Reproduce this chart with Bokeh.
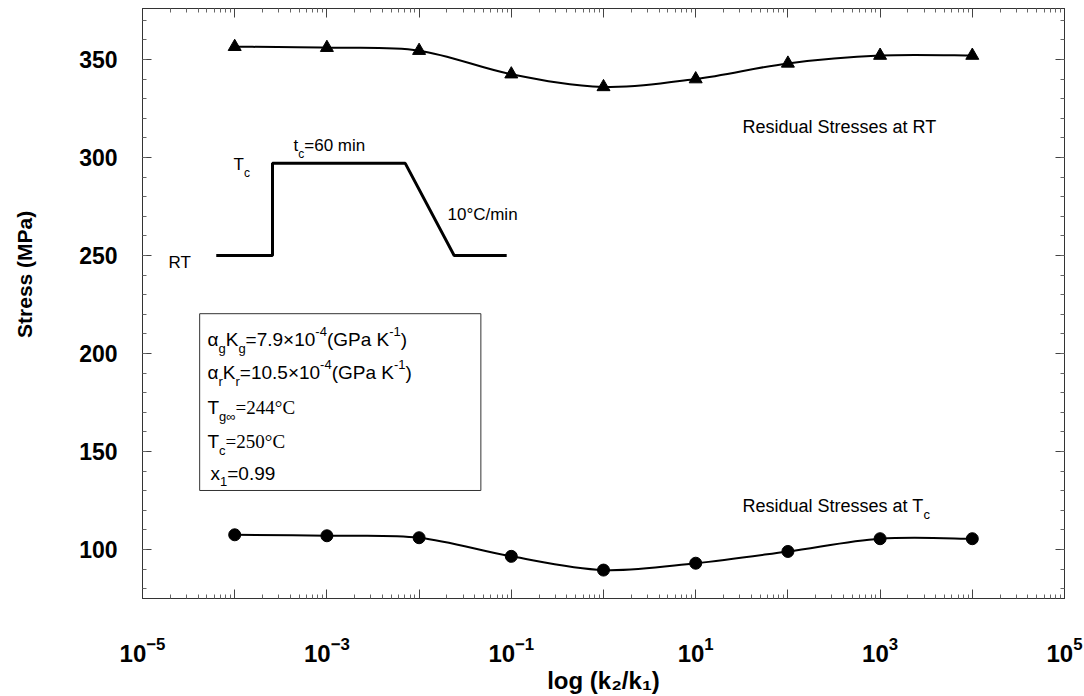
import numpy as np
from bokeh.plotting import figure
from bokeh.models import Label, LogAxis, LinearAxis, FixedTicker, Range1d, ColumnDataSource
from bokeh.embed import file_html
from bokeh.resources import INLINE

# ---------------- data ----------------
k_ratio = [1e-4, 1e-3, 1e-2, 1e-1, 1e0, 1e1, 1e2, 1e3, 1e4]
stress_rt = [356.5, 356.0, 354.5, 342.5, 336.0, 340.0, 348.0, 352.0, 352.0]
stress_tc = [107.5, 107.0, 106.0, 96.5, 89.5, 93.0, 99.0, 105.5, 105.5]

x_decades = list(range(-5, 6))
x_labelled_decades = [-5, -3, -1, 1, 3, 5]
y_tick_values = [100, 150, 200, 250, 300, 350]

# schematic thermal history (log10 x, temperature level on stress scale)
profile_log_x = [-4.20, -3.59, -3.59, -2.15, -1.62, -1.05]
profile_level = [250, 250, 297, 297, 250, 250]

# parameter box (log10 x extent, y extent)
box_log_x = [-4.38, -1.33]
box_y = [130.1, 220.3]
box_line_y = [207.1, 190.3, 172.4, 155.1, 138.8]

SANS = "Liberation Sans"
SERIF = "Liberation Serif"

W_REG = {' ': 278, '(': 333, ')': 333, '-': 333, '.': 278, '/': 278, '=': 584, 'C': 722,
         'G': 778, 'K': 667, 'P': 667, 'R': 722, 'S': 667, 'T': 611, 'a': 556, 'c': 500,
         'd': 556, 'e': 556, 'g': 556, 'i': 222, 'l': 222, 'm': 833, 'n': 556, 'r': 333,
         's': 500, 't': 278, 'u': 556, 'x': 500, '\u00d7': 584, '\u00b0': 400, '\u03b1': 578,
         '\u221e': 713, 'k': 500, 'o': 556}
W_SERIF = {'=': 564, '\u00b0': 400, 'C': 667, '.': 250}


def text_width(s, size, fam):
    table, dflt = (W_SERIF, 500) if fam == SERIF else (W_REG, 556)
    return sum(table.get(ch, dflt) for ch in s) * size / 1000.0


p = figure(frame_width=922, frame_height=590, x_axis_type="log",
           x_range=Range1d(1e-5, 1e5), y_range=Range1d(75, 376),
           output_backend="svg", toolbar_location=None,
           min_border_left=142, min_border_right=20, min_border_top=8, min_border_bottom=98)
p.background_fill_color = "white"
p.border_fill_color = "white"
p.outline_line_color = "#222222"
p.grid.visible = False

x_major = [10.0 ** k for k in x_decades]
x_minor = [m * 10.0 ** k for k in range(-5, 5) for m in range(2, 10)]
y_minor = list(range(80, 371, 10))

bottom_axis = p.below[0]
left_axis = p.left[0]
top_axis = LogAxis()
right_axis = LinearAxis()
p.add_layout(top_axis, "above")
p.add_layout(right_axis, "right")

for ax in [bottom_axis, top_axis]:
    ax.ticker = FixedTicker(ticks=x_major, minor_ticks=x_minor)
for ax in [left_axis, right_axis]:
    ax.ticker = FixedTicker(ticks=y_tick_values, minor_ticks=y_minor)
for ax in [bottom_axis, top_axis, left_axis, right_axis]:
    ax.major_tick_in = 9
    ax.major_tick_out = 0
    ax.minor_tick_in = 4
    ax.minor_tick_out = 0
    ax.axis_line_color = "#333333"
    ax.major_tick_line_color = "#444444"
    ax.minor_tick_line_color = "#666666"
    ax.major_label_text_color = "black"
    ax.major_label_text_font = SANS
    ax.major_label_text_font_style = "bold"

# hidden labels on the mirror axes
top_axis.major_label_overrides = {v: "" for v in x_major}
right_axis.major_label_overrides = {float(v): "" for v in y_tick_values}
top_axis.major_label_standoff = 0
right_axis.major_label_standoff = 0

# bottom axis: 10^n labels on every second decade
bottom_axis.major_label_overrides = {10.0 ** k: "" for k in x_decades if k not in x_labelled_decades}
bottom_axis.major_label_text_font_size = "24px"
bottom_axis.major_label_standoff = 38
bottom_axis.axis_label = "log (k\u2082/k\u2081)"
bottom_axis.axis_label_text_font = SANS
bottom_axis.axis_label_text_font_size = "24px"
bottom_axis.axis_label_text_font_style = "bold"
bottom_axis.axis_label_text_color = "black"
bottom_axis.axis_label_standoff = 2

# left axis
left_axis.major_label_text_font_size = "23px"
left_axis.major_label_standoff = 25
left_axis.axis_label = "\u00a0" * 10 + "Stress (MPa)"
left_axis.axis_label_text_font = SANS
left_axis.axis_label_text_font_size = "21px"
left_axis.axis_label_text_font_style = "bold"
left_axis.axis_label_text_color = "black"
left_axis.axis_label_standoff = 40


def rich(x, y, parts, size, small, sub_drop=0.45, sup_rise=0.42):
    cur = 0.0
    for txt, mode, fam in parts:
        fs = size if mode == "n" else small
        dy = 0.0
        if mode == "b":
            dy = -sub_drop * size
        elif mode == "p":
            dy = sup_rise * size
        p.add_layout(Label(x=x, y=y, x_offset=float(cur), y_offset=float(dy), text=txt,
                           text_font=fam, text_font_size=f"{fs}px",
                           text_baseline="alphabetic", text_align="left",
                           text_color="black"))
        cur += text_width(txt, fs, fam)


# ---------------- curves ----------------
def smooth(xs, ys):
    u = np.log10(np.array(xs, dtype=float))
    v = np.array(ys, dtype=float)
    U = np.concatenate([[u[0]], u, [u[-1]]])
    V = np.concatenate([[v[0]], v, [v[-1]]])
    d = dict(x0=[], y0=[], x1=[], y1=[], cx0=[], cy0=[], cx1=[], cy1=[])
    for i in range(len(u) - 1):
        p0u, p1u, p2u, p3u = U[i], U[i + 1], U[i + 2], U[i + 3]
        p0v, p1v, p2v, p3v = V[i], V[i + 1], V[i + 2], V[i + 3]
        d["x0"].append(10 ** p1u); d["y0"].append(p1v)
        d["x1"].append(10 ** p2u); d["y1"].append(p2v)
        d["cx0"].append(10 ** (p1u + (p2u - p0u) / 6)); d["cy0"].append(p1v + (p2v - p0v) / 6)
        d["cx1"].append(10 ** (p2u - (p3u - p1u) / 6)); d["cy1"].append(p2v - (p3v - p1v) / 6)
    return ColumnDataSource(d)


for series in [stress_rt, stress_tc]:
    p.bezier(x0="x0", y0="y0", x1="x1", y1="y1", cx0="cx0", cy0="cy0", cx1="cx1", cy1="cy1",
             source=smooth(k_ratio, series), line_color="black", line_width=2)

p.scatter(k_ratio, stress_rt, marker="triangle", size=13, color="black")
p.scatter(k_ratio, stress_tc, marker="circle", size=12, color="black")

# thermal history schematic
p.line([10 ** v for v in profile_log_x], profile_level, line_color="black", line_width=3)

# parameter box
p.quad(left=[10 ** box_log_x[0]], right=[10 ** box_log_x[1]], bottom=[box_y[0]], top=[box_y[1]],
       fill_color=None, line_color="#333333", line_width=1)

# ---------------- texts inside the frame ----------------
rich(10 ** 1.508, 315.3, [("Residual Stresses at RT", "n", SANS)], 18, 13)
rich(10 ** 1.508, 122.4, [("Residual Stresses at T", "n", SANS), ("c", "b", SANS)], 18, 13,
     sub_drop=0.5)

rich(10 ** -4.718, 246.6, [("RT", "n", SANS)], 17, 12)
rich(10 ** -4.013, 296.4, [("T", "n", SANS), ("c", "b", SANS)], 17, 12, sub_drop=0.5)
rich(10 ** -3.362, 306.1, [("t", "n", SANS), ("c", "b", SANS), ("=60 min", "n", SANS)], 17, 12,
     sub_drop=0.5)
rich(10 ** -1.692, 270.9, [("10\u00b0C/min", "n", SANS)], 17, 12)

bx = 10 ** -4.295
rich(bx, box_line_y[0], [("\u03b1", "n", SANS), ("g", "b", SANS), ("K", "n", SANS), ("g", "b", SANS),
                         ("=7.9\u00d710", "n", SANS), ("-4", "p", SANS), ("(GPa K", "n", SANS),
                         ("-1", "p", SANS), (")", "n", SANS)], 19, 13)
rich(bx, box_line_y[1], [("\u03b1", "n", SANS), ("r", "b", SANS), ("K", "n", SANS), ("r", "b", SANS),
                         ("=10.5\u00d710", "n", SANS), ("-4", "p", SANS), ("(GPa K", "n", SANS),
                         ("-1", "p", SANS), (")", "n", SANS)], 19, 13)
rich(bx, box_line_y[2], [("T", "n", SANS), ("g\u221e", "b", SANS), ("=244\u00b0C", "n", SERIF)], 19, 13)
rich(bx, box_line_y[3], [("T", "n", SANS), ("c", "b", SANS), ("=250\u00b0C", "n", SERIF)], 19, 13)
rich(10 ** -4.262, box_line_y[4], [("x", "n", SANS), ("1", "b", SANS), ("=0.99", "n", SANS)], 19, 13)

open("out.html", "w").write(file_html(p, INLINE))
